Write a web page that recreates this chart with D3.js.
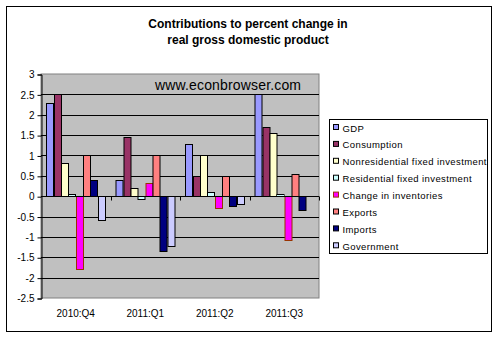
<!DOCTYPE html>
<html>
<head>
<meta charset="utf-8">
<script src="https://cdn.jsdelivr.net/npm/d3@7"></script>
<style>
  body { margin: 0; background: #fff; }
  text { font-family: "Liberation Sans", Arial, sans-serif; }
</style>
</head>
<body>
<div id="chart"></div>
<script>
// quarters and series, contributions in percentage points
const quarters = ["2010:Q4", "2011:Q1", "2011:Q2", "2011:Q3"];
const seriesNames = ["GDP", "Consumption", "Nonresidential fixed investment",
  "Residential fixed investment", "Change in inventories", "Exports", "Imports", "Government"];
const gdp = [2.3, 0.4, 1.28, 2.5];
const consumption = [2.5, 1.45, 0.5, 1.71];
const nonresInv = [0.81, 0.2, 1.0, 1.55];
const resInv = [0.05, -0.07, 0.1, 0.05];
const inventories = [-1.79, 0.33, -0.29, -1.07];
const exportsC = [1.0, 1.02, 0.5, 0.55];
const importsC = [0.4, -1.34, -0.25, -0.35];
const government = [-0.59, -1.23, -0.2, 0.0];
const yTicks = [3, 2.5, 2, 1.5, 1, 0.5, 0, -0.5, -1, -1.5, -2, -2.5];

const allSeries = [gdp, consumption, nonresInv, resInv, inventories, exportsC, importsC, government];
const fills = ["#9999ff", "#993366", "#ffffcc", "#ccffff", "#ff00ff", "#ff8080", "#000080", "#ccccff"];
const strokes = ["#000", "#000", "#000", "#000", "#993300", "#000", "#000", "#000"];

const W = 498, H = 338;
const plot = { left: 41, right: 319, top: 74, bottom: 298 };

const svg = d3.select("#chart")
    .append("svg")
    .attr("width", W)
    .attr("height", H);

// outer frame
svg.append("rect")
    .attr("x", 6.5).attr("y", 6.5)
    .attr("width", 485).attr("height", 325)
    .attr("fill", "#fff").attr("stroke", "#000");

// title
svg.append("text")
    .attr("x", 248).attr("y", 28)
    .attr("text-anchor", "middle")
    .attr("font-size", 12).attr("font-weight", "bold")
    .text("Contributions to percent change in");
svg.append("text")
    .attr("x", 248).attr("y", 44)
    .attr("text-anchor", "middle")
    .attr("font-size", 12).attr("font-weight", "bold")
    .text("real gross domestic product");

const x0 = d3.scaleBand()
    .domain(quarters)
    .range([plot.left, plot.right])
    .paddingInner(0).paddingOuter(0);

const x1 = d3.scaleBand()
    .domain(d3.range(seriesNames.length))
    .range([0, x0.bandwidth()])
    .paddingInner(0)
    .paddingOuter(0.75);

const y = d3.scaleLinear()
    .domain([-2.5, 3])
    .range([plot.bottom, plot.top]);

// plot area background
svg.append("rect")
    .attr("x", plot.left).attr("y", plot.top)
    .attr("width", plot.right - plot.left)
    .attr("height", plot.bottom - plot.top)
    .attr("fill", "#c0c0c0")
    .attr("stroke", "#808080");

// gridlines
svg.append("g")
    .selectAll("line")
    .data(yTicks.filter(d => d !== 3 && d !== -2.5))
    .join("line")
    .attr("x1", plot.left).attr("x2", plot.right)
    .attr("y1", d => Math.round(y(d)) + 0.5)
    .attr("y2", d => Math.round(y(d)) + 0.5)
    .attr("stroke", "#000");

// watermark
svg.append("text")
    .attr("x", 155).attr("y", 90)
    .attr("font-size", 14)
    .attr("fill", "#000")
    .attr("textLength", 146)
    .text("www.econbrowser.com");

// bars
const groups = svg.append("g")
    .selectAll("g")
    .data(quarters)
    .join("g")
    .attr("transform", d => `translate(${x0(d)},0)`);

groups.selectAll("rect")
    .data((q, qi) => allSeries.map((s, si) => ({ si, v: s[qi] })))
    .join("rect")
    .attr("x", d => Math.round(x1(d.si)) + 0.5)
    .attr("width", Math.round(x1.bandwidth()))
    .attr("y", d => Math.round(y(Math.max(0, d.v))) + 0.5)
    .attr("height", d => Math.abs(Math.round(y(d.v)) - Math.round(y(0))))
    .attr("fill", d => fills[d.si])
    .attr("stroke", d => strokes[d.si])
    .attr("display", d => d.v === 0 ? "none" : null);

// y axis
const yAxis = d3.axisLeft(y)
    .tickValues(yTicks)
    .tickSize(4)
    .tickFormat(d => d);
const yg = svg.append("g")
    .attr("transform", `translate(${plot.left + 0.5},0.5)`)
    .call(yAxis);
yg.select(".domain").attr("stroke", "#000");
yg.selectAll(".tick line").attr("stroke", "#000");
yg.selectAll("text")
    .attr("font-size", 10)
    .attr("font-family", "Liberation Sans, Arial, sans-serif")
    .attr("fill", "#000")
    .attr("x", -7);

// x axis at zero, tick marks between quarters
const zeroY = Math.round(y(0)) + 0.5;
svg.append("line")
    .attr("x1", plot.left).attr("x2", plot.right)
    .attr("y1", zeroY).attr("y2", zeroY)
    .attr("stroke", "#000");
svg.append("g")
    .selectAll("line")
    .data(quarters.slice(1).concat(["end"]))
    .join("line")
    .attr("x1", (d, i) => Math.round(i < 3 ? x0(d) : plot.right) + 0.5)
    .attr("x2", (d, i) => Math.round(i < 3 ? x0(d) : plot.right) + 0.5)
    .attr("y1", zeroY).attr("y2", zeroY + 4)
    .attr("stroke", "#000");

// category labels
svg.append("g")
    .selectAll("text")
    .data(quarters)
    .join("text")
    .attr("x", d => x0(d) + x0.bandwidth() / 2)
    .attr("y", 317)
    .attr("text-anchor", "middle")
    .attr("font-size", 10)
    .text(d => d);

// legend
const legend = svg.append("g");
legend.append("rect")
    .attr("x", 329.5).attr("y", 119.5)
    .attr("width", 158).attr("height", 134)
    .attr("fill", "#fff").attr("stroke", "#000");

const items = legend.selectAll("g")
    .data(seriesNames)
    .join("g")
    .attr("transform", (d, i) => `translate(0,${128 + i * 16.9})`);
items.append("rect")
    .attr("x", 333.5).attr("y", -3.5)
    .attr("width", 5).attr("height", 5)
    .attr("fill", (d, i) => fills[i])
    .attr("stroke", (d, i) => strokes[i]);
items.append("text")
    .attr("x", 342.5).attr("y", 3.5)
    .attr("font-size", 9.5)
    .attr("letter-spacing", 0.4)
    .text(d => d);
</script>
</body>
</html>
